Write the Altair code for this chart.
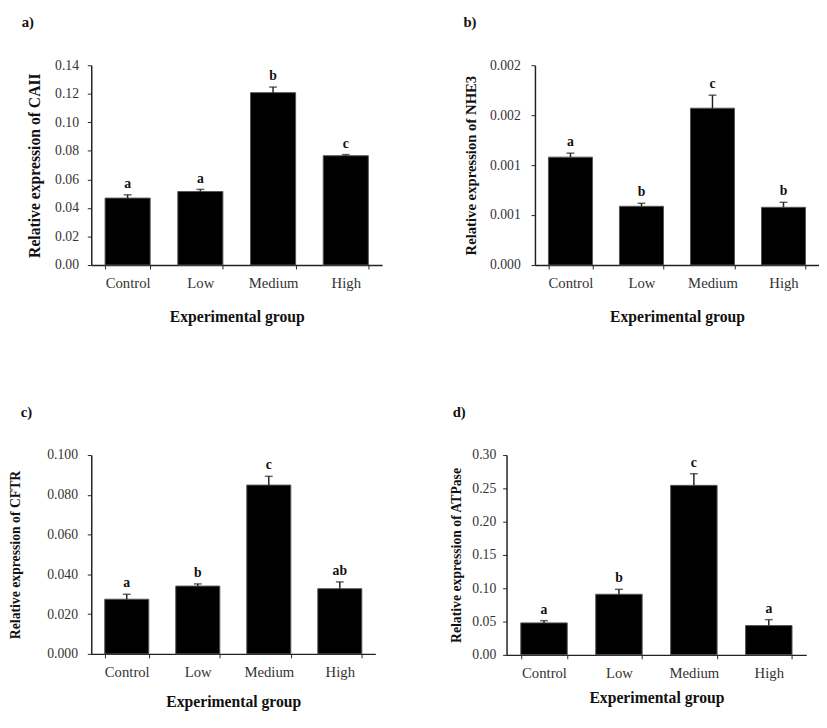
import altair as alt
import pandas as pd

groups = ["Control", "Low", "Medium", "High"]

caii_mean = [0.0469, 0.0515, 0.1208, 0.0766]
caii_err = [0.0023, 0.0015, 0.0039, 0.0008]
caii_sig = ["a", "a", "b", "c"]

nhe3_mean = [0.00108, 0.000588, 0.00157, 0.000578]
nhe3_err = [0.00004, 0.00003, 0.00013, 0.00005]
nhe3_sig = ["a", "b", "c", "b"]

cftr_mean = [0.0275, 0.0341, 0.0849, 0.0328]
cftr_err = [0.0025, 0.0011, 0.0044, 0.0034]
cftr_sig = ["a", "b", "c", "ab"]

atp_mean = [0.048, 0.091, 0.2545, 0.044]
atp_err = [0.0034, 0.0074, 0.0175, 0.0089]
atp_sig = ["a", "b", "c", "a"]

caii_ticks = [0.0, 0.02, 0.04, 0.06, 0.08, 0.10, 0.12, 0.14]
caii_labels = ["0.00", "0.02", "0.04", "0.06", "0.08", "0.10", "0.12", "0.14"]
nhe3_ticks = [0.0, 0.0005, 0.001, 0.0015, 0.002]
nhe3_labels = ["0.000", "0.001", "0.001", "0.002", "0.002"]
cftr_ticks = [0.0, 0.02, 0.04, 0.06, 0.08, 0.10]
cftr_labels = ["0.000", "0.020", "0.040", "0.060", "0.080", "0.100"]
atp_ticks = [0.0, 0.05, 0.10, 0.15, 0.20, 0.25, 0.30]
atp_labels = ["0.00", "0.05", "0.10", "0.15", "0.20", "0.25", "0.30"]

FONT = "Liberation Serif"


def label_expr(ticks, labels):
    parts = []
    for t, l in zip(ticks, labels):
        parts.append(f"abs(datum.value - {t!r}) < 1e-9 ? '{l}'")
    return " : ".join(parts) + " : datum.label"


def panel(tag, ytitle, means, errs, sigs, ticks, labels, ymax, w, h,
          ytitle_size, ytitle_pad, ylabel_pad, xtitle_pad, tag_dx):
    df = pd.DataFrame({
        "group": groups,
        "mean": means,
        "top": [m + e for m, e in zip(means, errs)],
        "sig": sigs,
    })
    x_axis = alt.Axis(title="Experimental group", labelAngle=0,
                      tickBand="extent", tickSize=4, tickColor="#222",
                      domainColor="#222", domainWidth=1.5,
                      labelFont=FONT, labelFontSize=15, labelColor="#333",
                      labelPadding=7,
                      titleFont=FONT, titleFontSize=16, titleFontWeight="bold",
                      titleColor="#111", titlePadding=xtitle_pad)
    x_scale = alt.Scale(paddingInner=0.38, paddingOuter=0.19)
    x = alt.X("group:N", sort=groups, scale=x_scale, axis=x_axis)
    y_scale = alt.Scale(domain=[0, ymax], nice=False, zero=True)
    y_axis = alt.Axis(title=ytitle, values=ticks,
                      labelExpr=label_expr(ticks, labels),
                      labelOverlap=False, labelFlush=False,
                      grid=False, tickSize=4, tickColor="#222",
                      domainColor="#222", domainWidth=1.5,
                      labelFont=FONT, labelFontSize=14, labelColor="#333",
                      labelPadding=ylabel_pad,
                      titleFont=FONT, titleFontSize=ytitle_size,
                      titleFontWeight="bold", titleColor="#111",
                      titlePadding=ytitle_pad)
    base = alt.Chart(df)
    bars = base.mark_bar(color="black", stroke="#555", strokeWidth=1).encode(
        x=x, y=alt.Y("mean:Q", scale=y_scale, axis=y_axis))
    err = base.mark_rule(color="#222", strokeWidth=1.5).encode(
        x=x, y=alt.Y("mean:Q", scale=y_scale, axis=y_axis), y2="top:Q")
    cap = base.mark_tick(color="#222", thickness=1.5, size=8, orient="horizontal").encode(
        x=x, y=alt.Y("top:Q", scale=y_scale, axis=y_axis))
    txt = base.mark_text(font=FONT, fontSize=14, fontWeight="bold", color="#111",
                         dy=-11).encode(
        x=x, y=alt.Y("top:Q", scale=y_scale, axis=y_axis), text="sig:N")
    return alt.layer(bars, err, cap, txt).properties(
        width=w, height=h,
        title=alt.TitleParams(tag, anchor="start", frame="group", font=FONT,
                              fontSize=15, fontWeight="bold", color="#111",
                              dx=tag_dx, offset=29),
    )


a = panel("a)", "Relative expression of CAII", caii_mean, caii_err, caii_sig,
          caii_ticks, caii_labels, 0.14, 297, 204,
          ytitle_size=16, ytitle_pad=12, ylabel_pad=9, xtitle_pad=19, tag_dx=-71)
b = panel("b)", "Relative expression of NHE3", nhe3_mean, nhe3_err, nhe3_sig,
          nhe3_ticks, nhe3_labels, 0.002, 290, 204,
          ytitle_size=15, ytitle_pad=11, ylabel_pad=11, xtitle_pad=19, tag_dx=-73)
c = panel("c)", "Relative expression of CFTR", cftr_mean, cftr_err, cftr_sig,
          cftr_ticks, cftr_labels, 0.10, 290, 203,
          ytitle_size=14, ytitle_pad=25, ylabel_pad=10, xtitle_pad=15, tag_dx=-72)
d = panel("d)", "Relative expression of ATPase", atp_mean, atp_err, atp_sig,
          atp_ticks, atp_labels, 0.30, 306, 204,
          ytitle_size=14, ytitle_pad=9, ylabel_pad=7, xtitle_pad=10, tag_dx=-55)

chart = alt.vconcat(
    alt.hconcat(a, b, spacing=83),
    alt.hconcat(c, d, spacing=75),
    spacing=82,
    padding=0,
    background="white",
).configure_view(strokeWidth=0)

chart.save("out.html", embed_options={"renderer": "svg", "actions": False})
